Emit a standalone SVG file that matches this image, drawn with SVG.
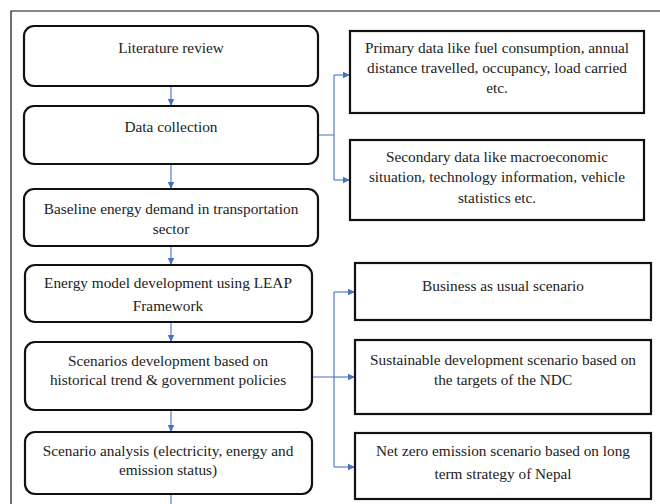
<svg xmlns="http://www.w3.org/2000/svg" width="660" height="504" viewBox="0 0 660 504">
<defs>
<marker id="ah" markerWidth="8" markerHeight="8" refX="7" refY="4" orient="auto" markerUnits="userSpaceOnUse">
<path d="M0,0.8 L7,4 L0,7.2 Z" fill="#4472C4"/>
</marker>
<style>
.rb{fill:#fff;stroke:#111;stroke-width:2.2}
.sb{fill:#fff;stroke:#111;stroke-width:2.2}
.t{font-family:"Liberation Serif","Times New Roman","DejaVu Serif",serif;font-size:15.3px;fill:#222;text-anchor:middle}
.c{fill:none;stroke:#4472C4;stroke-width:1.1}
.frame{fill:none;stroke:#111;stroke-width:1.2}
</style>
</defs>
<rect width="660" height="504" fill="#fff"/>
<path class="frame" d="M11,504 V11 H660"/>
<g id="connectors">
<line class="c" x1="171" y1="86" x2="171" y2="106" marker-end="url(#ah)"/>
<line class="c" x1="171" y1="164" x2="171" y2="189" marker-end="url(#ah)"/>
<line class="c" x1="171" y1="246" x2="171" y2="265" marker-end="url(#ah)"/>
<line class="c" x1="171" y1="322" x2="171" y2="342" marker-end="url(#ah)"/>
<line class="c" x1="171" y1="410" x2="171" y2="432" marker-end="url(#ah)"/>
<line class="c" x1="171" y1="494" x2="171" y2="504"/>
<path class="c" d="M318,135 H334 M334,75 V180"/>
<path class="c" d="M334,75 H350" marker-end="url(#ah)"/>
<path class="c" d="M334,180 H350" marker-end="url(#ah)"/>
<path class="c" d="M312,377 H334 M334,292 V467"/>
<path class="c" d="M334,292 H355" marker-end="url(#ah)"/>
<path class="c" d="M334,377 H355" marker-end="url(#ah)"/>
<path class="c" d="M334,467 H355" marker-end="url(#ah)"/>
</g>
<g id="literature-review">
<rect class="rb" x="24" y="26" width="294" height="60" rx="10"/>
<text class="t" x="171" y="53">Literature review</text>
</g>
<g id="data-collection">
<rect class="rb" x="24" y="106" width="294" height="58" rx="10"/>
<text class="t" x="171" y="132">Data collection</text>
</g>
<g id="baseline">
<rect class="rb" x="24" y="189" width="294" height="57" rx="10"/>
<text class="t" x="171" y="214">Baseline energy demand in transportation</text>
<text class="t" x="171" y="234">sector</text>
</g>
<g id="energy-model">
<rect class="rb" x="25" y="265" width="287" height="57" rx="10"/>
<text class="t" x="168" y="288">Energy model development using LEAP</text>
<text class="t" x="168" y="311">Framework</text>
</g>
<g id="scenarios-development">
<rect class="rb" x="25" y="342" width="287" height="68" rx="10"/>
<text class="t" x="168" y="366">Scenarios development based on</text>
<text class="t" x="168" y="385">historical trend &amp; government policies</text>
</g>
<g id="scenario-analysis">
<rect class="rb" x="25" y="432" width="287" height="62" rx="10"/>
<text class="t" x="168" y="456">Scenario analysis (electricity, energy and</text>
<text class="t" x="168" y="475">emission status)</text>
</g>
<g id="primary-data">
<rect class="sb" x="350" y="31" width="294" height="82"/>
<text class="t" x="497" y="53">Primary data like fuel consumption, annual</text>
<text class="t" x="497" y="73">distance travelled, occupancy, load carried</text>
<text class="t" x="497" y="93">etc.</text>
</g>
<g id="secondary-data">
<rect class="sb" x="350" y="140" width="294" height="80"/>
<text class="t" x="497" y="162">Secondary data like macroeconomic</text>
<text class="t" x="497" y="182">situation, technology information, vehicle</text>
<text class="t" x="497" y="203">statistics etc.</text>
</g>
<g id="bau">
<rect class="sb" x="355" y="263" width="296" height="57"/>
<text class="t" x="503" y="291">Business as usual scenario</text>
</g>
<g id="sustainable">
<rect class="sb" x="355" y="340" width="296" height="74"/>
<text class="t" x="503" y="365">Sustainable development scenario based on</text>
<text class="t" x="503" y="385">the targets of the NDC</text>
</g>
<g id="net-zero">
<rect class="sb" x="355" y="433" width="296" height="66"/>
<text class="t" x="503" y="456">Net zero emission scenario based on long</text>
<text class="t" x="503" y="479">term strategy of Nepal</text>
</g>
</svg>
